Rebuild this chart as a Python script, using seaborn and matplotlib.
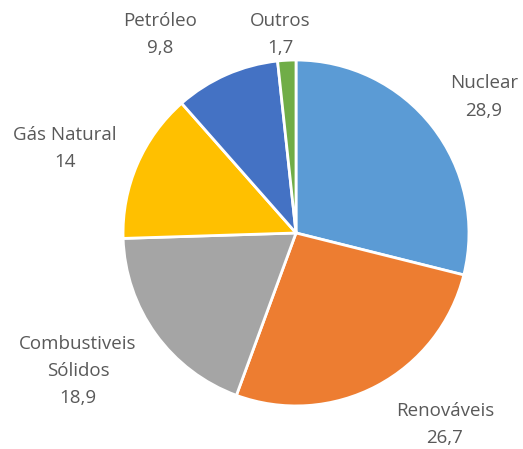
import numpy as np
import pandas as pd
import matplotlib
matplotlib.use("Agg")
import matplotlib.pyplot as plt
import seaborn as sns

sns.set_style("white")
plt.rcParams['font.family'] = ['Open Sans', 'DejaVu Sans']

# Dados
fontes = ["Nuclear", "Renováveis", "Combustiveis\nSólidos", "Gás Natural", "Petróleo", "Outros"]
valores = [28.9, 26.7, 18.9, 14, 9.8, 1.7]
rotulos = ["28,9", "26,7", "18,9", "14", "9,8", "1,7"]
cores = ["#5B9BD5", "#ED7D31", "#A5A5A5", "#FFC000", "#4472C4", "#70AD47"]

# posição dos rótulos (unidades do raio)
pos_rotulos = [(1.087, 0.786), (0.861, -1.105), (-1.260, -0.80),
               (-1.335, 0.491), (-0.786, 1.145), (-0.092, 1.145)]

df = pd.DataFrame({"fonte": fontes, "valor": valores, "rotulo": rotulos})

fig = plt.figure(figsize=(5.23, 4.49), dpi=100)
ax = fig.add_axes([0, 0, 1, 1])
ax.pie(df["valor"], colors=cores, startangle=90, counterclock=False,
       wedgeprops=dict(edgecolor="white", linewidth=2))

for (x, y), nome, r in zip(pos_rotulos, df["fonte"], df["rotulo"]):
    ax.text(x, y, nome + "\n" + r, ha="center", va="center",
            fontsize=13.5, color="#595959", linespacing=1.65)

ax.set_xlim(-1.711, 1.312)
ax.set_ylim(-1.249, 1.347)
ax.set_aspect("equal")
ax.axis("off")

plt.savefig("out.png", dpi=100)
